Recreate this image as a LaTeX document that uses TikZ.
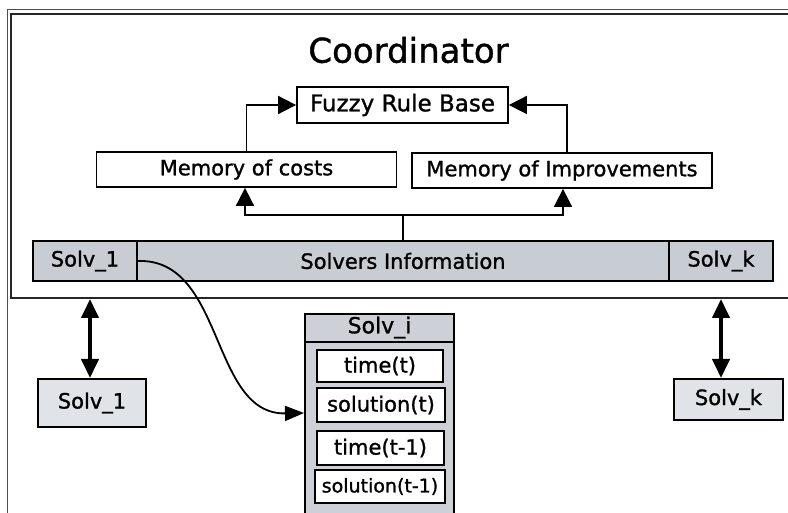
\documentclass[tikz,border=0pt]{standalone}
\usepackage{fontspec}
\setmainfont{DejaVu Sans}[FakeBold=1.2]
\usetikzlibrary{arrows.meta}
\definecolor{bargrey}{RGB}{200,204,211}
\definecolor{lightgrey}{RGB}{224,227,232}
\definecolor{colgrey}{RGB}{205,208,215}
\begin{document}
\begin{tikzpicture}[x=1pt,y=-1pt,
  txt/.style={font=\fontsize{21}{24}\selectfont},
  wbox/.style={draw, line width=1.8pt, fill=white, inner sep=0pt, txt},
  gcell/.style={draw, line width=1.6pt, fill=bargrey, inner sep=0pt, txt, minimum height=40pt},
  ibox/.style={draw, line width=2.4pt, fill=white, inner sep=0pt, txt},
  arr/.style={line width=1.8pt, -{Triangle[length=18pt,width=18pt]}},
  dbl/.style={line width=4pt, {Triangle[length=19pt,width=17pt]}-{Triangle[length=19pt,width=17pt]}}]
\useasboundingbox (0,0) rectangle (788,513);
\fill[white] (0,0) rectangle (788,513);
% outer thin frame
\draw[line width=0.8pt, black!70] (7.5,520) -- (7.5,9) -- (800,9);
% coordinator frame
\draw[line width=2.4pt, black!85] (11,14) rectangle (800,298);
\coordinate (fb1) at (90,299);
\coordinate (fbk) at (721,299);
\node[font=\fontsize{34}{40}\selectfont] (coord) at (408.5,50) {Coordinator};
% top boxes
\node[wbox, minimum width=211pt, minimum height=36pt, font=\fontsize{23}{26}\selectfont] (fuzzy) at (402.5,105) {Fuzzy Rule Base};
\node[wbox, minimum width=300pt, minimum height=35pt] (memc) at (246.5,169.5) {Memory of costs};
\node[wbox, minimum width=300pt, minimum height=35pt] (memi) at (562,170.5) {Memory of Improvements};
% solvers information bar
\node[gcell, minimum width=104pt] (s1) at (85,261) {Solv\_1};
\node[gcell, minimum width=532pt] (info) at (403,261) {Solvers Information};
\node[gcell, minimum width=104pt] (sk) at (721,261) {Solv\_k};
% arrows to fuzzy
\draw[arr] (memc.north) |- (fuzzy.west);
\draw[arr] ([xshift=5pt]memi.north) |- (fuzzy.east);
% arrows from info to memories
\draw[line width=1.8pt] (info.north) -- ++(0,-25) coordinate (j);
\draw[arr] (j) -| ([xshift=-1.5pt]memc.south);
\draw[arr] (j) -| ([xshift=1pt]memi.south);
% bottom solver boxes
\node[draw, line width=2pt, fill=lightgrey, inner sep=0pt, txt, minimum width=108pt, minimum height=48pt] (b1) at (92,403) {Solv\_1};
\node[draw, line width=2pt, fill=lightgrey, inner sep=0pt, txt, minimum width=109pt, minimum height=41pt] (bk) at (728.5,399.5) {Solv\_k};
\draw[dbl] (fb1) -- (b1.north -| fb1);
\draw[dbl] (fbk) -- (bk.north -| fbk);
% Solv_i column
\node[draw, line width=2pt, fill=colgrey, inner sep=0pt, minimum width=149pt, minimum height=215pt, anchor=north] (solvi) at (379.5,313) {};
\draw[line width=2pt] (305,342) -- (454,342);
\node[txt, font=\fontsize{22}{25}\selectfont] (hdr) at (379.5,327.5) {Solv\_i};
\node[ibox, minimum width=126pt, minimum height=32pt] (tt) at (380,366) {time(t)};
\node[ibox, minimum width=128pt, minimum height=34pt] (st) at (381,405) {solution(t)};
\node[ibox, minimum width=127pt, minimum height=34pt] (tt1) at (380.5,448) {time(t-1)};
\node[ibox, minimum width=130pt, minimum height=33pt, font=\fontsize{19}{22}\selectfont] (st1) at (380,486.5) {solution(t-1)};
% curve
\draw[line width=1.8pt, -{Triangle[length=19pt,width=15pt]}] (s1.east) .. controls (225,258) and (210,415) .. ([yshift=-8pt]st.west -| solvi.west);
\end{tikzpicture}
\end{document}
